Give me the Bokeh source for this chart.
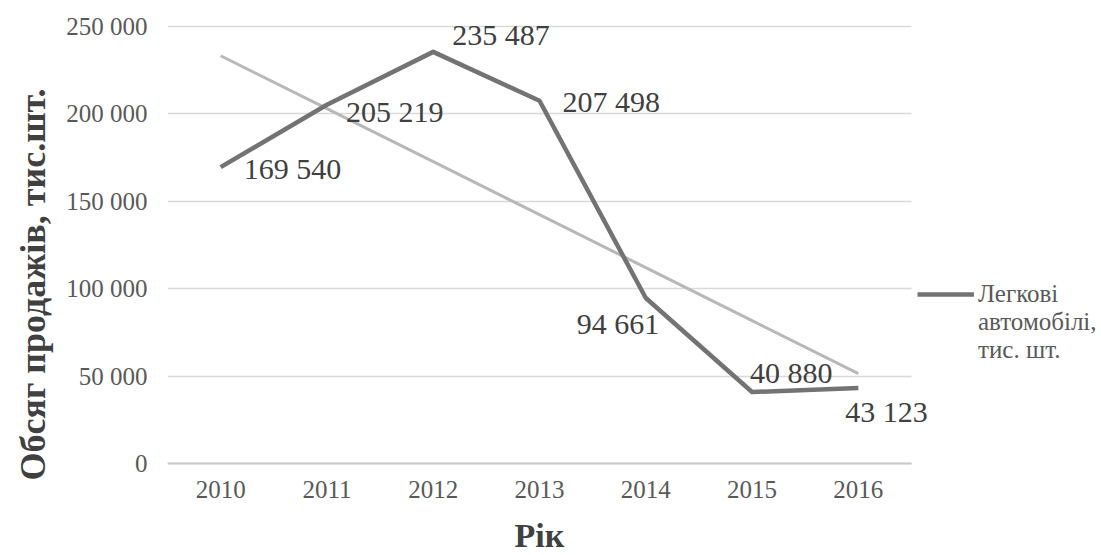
import numpy as np
from bokeh.plotting import figure
from bokeh.models import (ColumnDataSource, Range1d, FixedTicker, Grid,
                          Legend, LegendItem, Title, Label)
from bokeh.core.properties import value
from bokeh.embed import file_html
from bokeh.resources import INLINE

# Passenger car sales, thousand units
years = ["2010", "2011", "2012", "2013", "2014", "2015", "2016"]
sales = [169540, 205219, 235487, 207498, 94661, 40880, 43123]
y_ticks = [0, 50000, 100000, 150000, 200000, 250000]

series_lines = ["Легкові", "автомобілі,", "тис. шт."]
y_title = "Обсяг продажів, тис.шт."
x_title = "Рік"

# label placement next to each point (screen px, y down)
label_dx = [23, 19, 19, 23, -69, -2, -13]
label_dy = [1, 7, -17, 1, 25, -20, 23]

SERIF = "'Liberation Serif', serif"

W, H = 1101, 555
PLOT_L, PLOT_R = 167, 911      # horizontal extent of the category band
PLOT_B = 463                   # pixel row of the zero line
Y_TOP_PX = 26                  # pixel row of the top gridline
XTITLE_MID = 535               # pixel row of the x title's middle
YTITLE_BOTTOM = 480            # pixel row where the y title starts


def fmt(v):
    return f"{v:,}".replace(",", " ")


n = len(years)
xpos = [i + 0.5 for i in range(n)]

# least-squares linear trend over the series
slope, intercept = np.polyfit(np.arange(n), sales, 1)
trend = [float(intercept + slope * i) for i in range(n)]

src = ColumnDataSource(data=dict(
    x=xpos, sales=sales, trend=trend,
    label=[fmt(v) for v in sales], dx=label_dx, dy=label_dy,
))

# the frame fills everything right of the y axis, so the legend, the end
# labels and the x title all sit inside it; the x axis is pinned at y = 0
px_per_unit = (PLOT_B - Y_TOP_PX) / y_ticks[-1]
x_end = n * (W - PLOT_L) / (PLOT_R - PLOT_L)
y_end = PLOT_B / px_per_unit
y_start = -(H - PLOT_B) / px_per_unit

p = figure(width=W, height=H, x_range=Range1d(0, x_end),
           y_range=Range1d(y_start, y_end), output_backend="svg",
           toolbar_location=None,
           min_border_left=PLOT_L, min_border_right=0,
           min_border_top=0, min_border_bottom=0)
p.outline_line_color = None
p.background_fill_color = "white"
p.border_fill_color = "white"

# grid
p.xgrid.grid_line_color = None
p.ygrid.grid_line_color = "#d9d9d9"
p.ygrid.grid_line_width = 1.5
p.ygrid.ticker = FixedTicker(ticks=y_ticks)
if "cross_bounds" in Grid.properties():
    p.ygrid.cross_bounds = (0, n)
else:
    p.ygrid.grid_line_color = None
    p.segment(x0=[0] * len(y_ticks), x1=[n] * len(y_ticks), y0=y_ticks,
              y1=y_ticks, line_color="#d9d9d9", line_width=1.5)

# y axis
ya = p.yaxis[0]
ya.ticker = FixedTicker(ticks=y_ticks)
ya.major_label_overrides = {t: fmt(t) for t in y_ticks}
ya.axis_line_color = None
ya.major_tick_line_color = None
ya.minor_tick_line_color = None
ya.major_tick_out = 0
ya.minor_tick_out = 0
ya.major_label_text_font = SERIF
ya.major_label_text_font_size = "25px"
ya.major_label_text_color = "#595959"
ya.major_label_standoff = 20

# x axis, categories at the band centres
xa = p.xaxis[0]
xa.fixed_location = 0
xa.ticker = FixedTicker(ticks=xpos)
xa.major_label_overrides = {x: y for x, y in zip(xpos, years)}
xa.bounds = (0, n)
xa.axis_line_color = "#c8c8c8"
xa.axis_line_width = 2
xa.major_tick_line_color = None
xa.minor_tick_line_color = None
xa.major_tick_out = 0
xa.minor_tick_out = 0
xa.major_label_text_font = SERIF
xa.major_label_text_font_size = "25px"
xa.major_label_text_color = "#595959"
xa.major_label_standoff = 17

# axis titles
p.add_layout(Label(x=n / 2, y=-(XTITLE_MID - PLOT_B) / px_per_unit,
                   text=x_title, text_font=SERIF, text_font_size="34px",
                   text_font_style="bold", text_color="#404040",
                   text_align="center", text_baseline="middle"))
p.add_layout(Title(text=y_title, align="left", offset=H - YTITLE_BOTTOM,
                   text_font=SERIF, text_font_size="36px",
                   text_font_style="bold", text_color="#404040",
                   standoff=21), "left")

# trend line and the series itself
p.line("x", "trend", source=src, line_color="#b8b8b8", line_width=3)
main = p.line("x", "sales", source=src, line_color="#737373",
              line_width=4.5, line_join="round")

# value labels
p.text("x", "sales", text="label", source=src, x_offset="dx", y_offset="dy",
       text_font=value(SERIF), text_font_size="30px", text_color="#404040",
       text_align="left", text_baseline="middle")

# two empty lines ahead of the name keep the swatch level with its first line
legend_label = "\n\n" + "\n".join(series_lines)
legend = Legend(items=[LegendItem(label=legend_label, renderers=[main])],
                location=(750, 99 + H - PLOT_B), orientation="vertical",
                border_line_color=None, background_fill_alpha=0,
                padding=0, margin=0, spacing=0,
                glyph_width=57, glyph_height=20, label_standoff=4,
                label_text_font=SERIF, label_text_font_size="25px",
                label_text_line_height=1.18,
                label_text_color="#595959")
p.add_layout(legend, "center")

open("out.html", "w").write(file_html(p, INLINE))
